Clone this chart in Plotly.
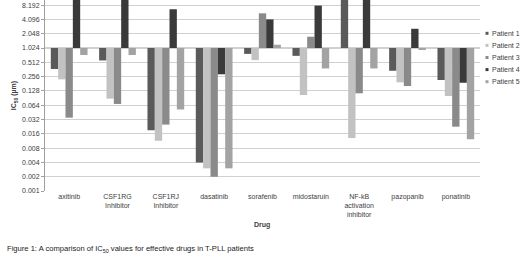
import plotly.graph_objects as go
import math

drugs = ["axitinib", "CSF1RG<br>Inhibitor", "CSF1RJ<br>Inhibitor", "dasatinib", "sorafenib",
         "midostaruin", "NF-kB<br>activation<br>inhibitor", "pazopanib", "ponatinib"]
patient1 = [0.37, 0.56, 0.019, 0.004, 0.77, 0.70, 12.0, 0.34, 0.217]
patient2 = [0.224, 0.088, 0.0114, 0.003, 0.57, 0.105, 0.013, 0.194, 0.10]
patient3 = [0.035, 0.068, 0.025, 0.002, 5.5, 1.77, 0.114, 0.162, 0.0226]
patient4 = [12.0, 12.0, 6.7, 0.286, 4.1, 8.0, 12.0, 2.6, 0.19]
patient5 = [0.73, 0.73, 0.052, 0.003, 1.2, 0.38, 0.38, 0.93, 0.0123]
series_names = ["Patient 1", "Patient 2", "Patient 3", "Patient 4", "Patient 5"]
series_colors = ["#5a5a5a", "#c2c2c2", "#8a8a8a", "#3a3a3a", "#a3a3a3"]
tick_vals = [0.001, 0.002, 0.004, 0.008, 0.016, 0.032, 0.064, 0.128, 0.256, 0.512,
             1.024, 2.048, 4.096, 8.192]
tick_text = ["0.001", "0.002", "0.004", "0.008", "0.016", "0.032", "0.064", "0.128", "0.256",
             "0.512", "1.024", "2.048", "4.096", "8.192"]
baseline = 1.024

FONT = "Liberation Sans, Arial, sans-serif"
W, H = 520, 257
L, R, T, B = 45, 40, 0, 66
PW, PH = W - L - R, H - T - B

fig = go.Figure()
for name, vals, col in zip(series_names, [patient1, patient2, patient3, patient4, patient5], series_colors):
    fig.add_trace(go.Bar(
        x=drugs, y=[v - baseline for v in vals], base=baseline, name=name,
        marker=dict(color=col, line=dict(width=0)), showlegend=False,
    ))

ymin = math.log10(0.001)
ymax = ymin + (PH / 14.3) * math.log10(2)

def px_x(x):
    return (x - L) / PW

def px_y(y):
    return (H - B - y) / PH

shapes = [dict(type="line", xref="paper", yref="y", x0=0, x1=1, y0=baseline, y1=baseline,
               line=dict(color="#a0a0a0", width=1), layer="below")]
annotations = []
legend_y = [33.3, 45.4, 57.5, 69.6, 81.7]
for name, col, ly in zip(series_names, series_colors, legend_y):
    shapes.append(dict(type="rect", xref="paper", yref="paper",
                       x0=px_x(485.5), x1=px_x(488.5), y0=px_y(ly + 1.5), y1=px_y(ly - 1.5),
                       fillcolor=col, line=dict(width=0)))
    annotations.append(dict(text=name, xref="paper", yref="paper", x=px_x(490), y=px_y(ly),
                            xanchor="left", yanchor="middle", showarrow=False,
                            font=dict(size=7, color="#404040")))

annotations.append(dict(text="<b>Drug</b>", xref="paper", yref="paper", x=px_x(262), y=px_y(225),
                        showarrow=False, font=dict(size=7, color="#404040"),
                        xanchor="center", yanchor="middle"))
annotations.append(dict(text="Figure 1: A comparison of IC<sub>50</sub> values for effective drugs in T-PLL patients",
                        xref="paper", yref="paper", x=px_x(5), y=px_y(249), xanchor="left",
                        yanchor="middle", showarrow=False, font=dict(size=7.6, color="#1a1a1a")))

fig.update_layout(
    width=W, height=H,
    margin=dict(l=L, r=R, t=T, b=B, autoexpand=False),
    paper_bgcolor="white", plot_bgcolor="white",
    barmode="group", bargap=0.24, bargroupgap=0,
    font=dict(family=FONT, size=7, color="#404040"),
    showlegend=False,
    xaxis=dict(showline=False, ticks="", tickfont=dict(size=7), title=None,
               showgrid=False, zeroline=False, automargin=False),
    yaxis=dict(type="log", range=[ymin, ymax], tickvals=tick_vals, ticktext=tick_text,
               showgrid=True, gridcolor="#d0d0d0", gridwidth=1, automargin=False,
               showline=True, linecolor="#a0a0a0", ticks="outside", ticklen=3,
               tickcolor="#a0a0a0", tickfont=dict(size=7), zeroline=False,
               title=dict(text="<b>IC<sub>50</sub> (µm)</b>", font=dict(size=7), standoff=4)),
    shapes=shapes,
    annotations=annotations,
)
fig.write_html("out.html", config={"displayModeBar": False},
               post_script="document.body.style.margin='0';")
